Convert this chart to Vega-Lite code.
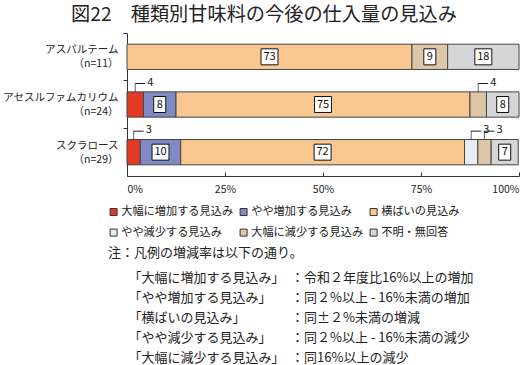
{
  "$schema": "https://vega.github.io/schema/vega-lite/v6.json",
  "width": 392,
  "height": 143,
  "autosize": {"type": "none"},
  "padding": {"left": 127, "top": 33, "right": 13, "bottom": 189},
  "background": "white",
  "config": {"font": "Noto Sans CJK JP", "view": {"stroke": null}},
  "title": {"text": "図22　種類別甘味料の今後の仕入量の見込み", "fontSize": 19.2, "fontWeight": "normal", "color": "#222", "offset": 7, "anchor": "middle", "frame": "group", "dx": -59},
  "data": {"values": [
    {"item": "アスパルテーム", "cls": "大幅に増加する見込み", "order": 1, "value": 0},
    {"item": "アスパルテーム", "cls": "やや増加する見込み", "order": 2, "value": 0},
    {"item": "アスパルテーム", "cls": "横ばいの見込み", "order": 3, "value": 72.7},
    {"item": "アスパルテーム", "cls": "やや減少する見込み", "order": 4, "value": 0},
    {"item": "アスパルテーム", "cls": "大幅に減少する見込み", "order": 5, "value": 9.1},
    {"item": "アスパルテーム", "cls": "不明・無回答", "order": 6, "value": 18.2},
    {"item": "アセスルファムカリウム", "cls": "大幅に増加する見込み", "order": 1, "value": 4.2},
    {"item": "アセスルファムカリウム", "cls": "やや増加する見込み", "order": 2, "value": 8.3},
    {"item": "アセスルファムカリウム", "cls": "横ばいの見込み", "order": 3, "value": 75.0},
    {"item": "アセスルファムカリウム", "cls": "やや減少する見込み", "order": 4, "value": 0},
    {"item": "アセスルファムカリウム", "cls": "大幅に減少する見込み", "order": 5, "value": 4.2},
    {"item": "アセスルファムカリウム", "cls": "不明・無回答", "order": 6, "value": 8.3},
    {"item": "スクラロース", "cls": "大幅に増加する見込み", "order": 1, "value": 3.4},
    {"item": "スクラロース", "cls": "やや増加する見込み", "order": 2, "value": 10.3},
    {"item": "スクラロース", "cls": "横ばいの見込み", "order": 3, "value": 72.4},
    {"item": "スクラロース", "cls": "やや減少する見込み", "order": 4, "value": 3.4},
    {"item": "スクラロース", "cls": "大幅に減少する見込み", "order": 5, "value": 3.4},
    {"item": "スクラロース", "cls": "不明・無回答", "order": 6, "value": 6.9}
  ]},
  "transform": [
    {"stack": "value", "groupby": ["item"], "sort": [{"field": "order", "order": "ascending"}], "as": ["x0", "x1"]},
    {"calculate": "(datum.x0 + datum.x1) / 2", "as": "mid"}
  ],
  "encoding": {
    "y": {
      "field": "item", "type": "nominal",
      "sort": ["アスパルテーム", "アセスルファムカリウム", "スクラロース"],
      "scale": {"paddingInner": 0, "paddingOuter": 0},
      "axis": {
        "title": null,
        "labelExpr": "datum.value == 'アスパルテーム' ? ['アスパルテーム', '（n=11）\u3000\u2004'] : datum.value == 'アセスルファムカリウム' ? ['アセスルファムカリウム', '（n=24）\u3000\u3000\u3000\u2002'] : ['スクラロース', '（n=29）\u3000']",
        "labelFontSize": 10.5,
        "labelLineHeight": 14,
        "labelColor": "#222",
        "labelPadding": 5,
        "labelAlign": "right",
        "labelBaseline": "middle",
        "bandPosition": 0,
        "labelOffset": -6.5,
        "tickSize": 4,
        "domainColor": "#333",
        "tickColor": "#333"
      }
    }
  },
  "layer": [
    {
      "transform": [{"filter": "datum.value > 0"}],
      "mark": {"type": "bar", "height": {"band": 0.53}, "stroke": "#444", "strokeWidth": 1},
      "encoding": {
        "x": {
          "field": "x0", "type": "quantitative",
          "scale": {"domain": [0, 100], "nice": false},
          "axis": {
            "values": [0, 25, 50, 75, 100],
            "labelExpr": "datum.value + '%'",
            "grid": false,
            "labelFontSize": 10.5,
            "labelColor": "#222",
            "domainColor": "#333",
            "tickColor": "#333",
            "tickSize": -4,
            "labelPadding": 12,
            "title": [
              "「大幅に増加する見込み」　：令和２年度比16%以上の増加",
              "「やや増加する見込み」　　：同２%以上 - 16%未満の増加",
              "「横ばいの見込み」　　　　：同±２%未満の増減",
              "「やや減少する見込み」　　：同２%以上 - 16%未満の減少",
              "「大幅に減少する見込み」　：同16%以上の減少"
            ],
            "titleFontSize": 13,
            "titleFontWeight": "normal",
            "titleColor": "#222",
            "titleAnchor": "start",
            "titleAlign": "left",
            "titleBaseline": "top",
            "titleX": 1,
            "titleY": 95,
            "titleLineHeight": 20
          }
        },
        "x2": {"field": "x1"},
        "color": {
          "field": "cls", "type": "nominal",
          "scale": {
            "domain": ["大幅に増加する見込み", "やや増加する見込み", "横ばいの見込み", "やや減少する見込み", "大幅に減少する見込み", "不明・無回答"],
            "range": ["#e23b25", "#808bc6", "#f9c890", "#e6eef5", "#ddc7a8", "#d6d6d6"]
          },
          "legend": {
            "orient": "none",
            "legendX": -19,
            "legendY": 173,
            "columns": 3,
            "direction": "horizontal",
            "symbolType": "square",
            "symbolSize": 49,
            "symbolStrokeColor": "#333",
            "symbolStrokeWidth": 1,
            "labelFontSize": 11.2,
            "labelColor": "#222",
            "labelOffset": 2,
            "labelLimit": 200,
            "columnPadding": 4,
            "rowPadding": 8,
            "padding": 0,
            "title": "注：凡例の増減率は以下の通り。",
            "titleOrient": "bottom",
            "titleFontSize": 13,
            "titleFontWeight": "normal",
            "titleColor": "#222",
            "titlePadding": 9,
            "titleAnchor": "start",
            "titleLimit": 400
          }
        }
      }
    },
    {
      "transform": [{"filter": "datum.value >= 5"}],
      "mark": {"type": "point", "filled": true, "fill": "white", "stroke": "#111", "strokeWidth": 1, "opacity": 1, "size": 256},
      "encoding": {
        "x": {"field": "mid", "type": "quantitative"},
        "shape": {"condition": {"test": "datum.value >= 9.5", "value": "M-1.06,-1H1.06V1H-1.06Z"}, "value": "M-0.75,-1H0.75V1H-0.75Z"}
      }
    },
    {
      "transform": [{"filter": "datum.value >= 5"}],
      "mark": {"type": "text", "fontSize": 11, "color": "#111", "align": "center", "baseline": "middle"},
      "encoding": {
        "x": {"field": "mid", "type": "quantitative"},
        "text": {"field": "value", "type": "quantitative", "format": ".0f"}
      }
    },
    {
      "transform": [{"filter": "datum.value > 0 && datum.value < 5"}],
      "mark": {"type": "tick", "orient": "vertical", "size": 9, "thickness": 1, "color": "#222", "yOffset": -17},
      "encoding": {
        "x": {"field": "mid", "type": "quantitative"}
      }
    },
    {
      "transform": [{"filter": "datum.value > 0 && datum.value < 5"}],
      "mark": {"type": "rule", "color": "#222", "strokeWidth": 1, "yOffset": -21, "x2Offset": 10},
      "encoding": {
        "x": {"field": "mid", "type": "quantitative"},
        "x2": {"field": "mid"}
      }
    },
    {
      "transform": [{"filter": "datum.value > 0 && datum.value < 5"}],
      "mark": {"type": "text", "fontSize": 11, "color": "#111", "align": "left", "baseline": "middle", "dx": 12, "dy": -22},
      "encoding": {
        "x": {"field": "mid", "type": "quantitative"},
        "text": {"field": "value", "type": "quantitative", "format": ".0f"}
      }
    }
  ]
}
